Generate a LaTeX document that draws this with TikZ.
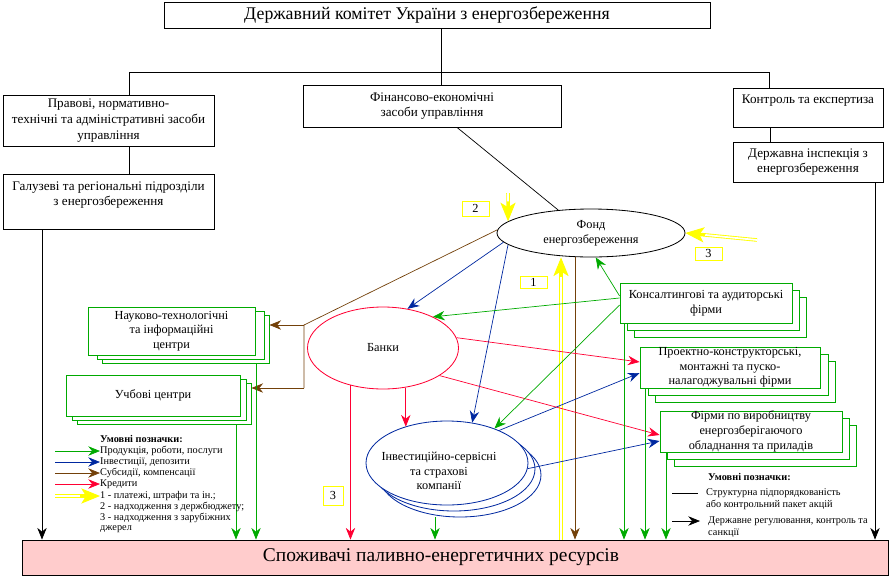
\documentclass[tikz,border=0pt]{standalone}
\usepackage{fontspec}
\setmainfont{Liberation Serif}
\usetikzlibrary{shapes.geometric,arrows.meta,calc}
\definecolor{grn}{RGB}{0,170,0}
\definecolor{blu}{RGB}{0,40,160}
\definecolor{brn}{RGB}{115,65,10}
\definecolor{rd}{RGB}{255,0,51}
\definecolor{ylw}{RGB}{255,255,0}
\definecolor{pnk}{RGB}{255,204,204}
\tikzset{
  sz/.style 2 args={minimum width=#1*0.03cm,minimum height=#2*0.03cm},
  box/.style={shape=rectangle,draw=black,line width=0.7pt,fill=white,align=center,inner sep=1pt,font=\fontsize{10.5}{12.5}\selectfont},
  topbox/.style={box,font=\fontsize{11.2}{13.5}\selectfont},
  gbox/.style={box,draw=grn},
  oval/.style={shape=ellipse,line width=0.7pt,fill=white,inner sep=0pt},
  intext/.style={align=center,font=\fontsize{10.5}{12.5}\selectfont},
  ybox/.style={box,draw=ylw},
  leg/.style={anchor=west,inner sep=0pt,font=\fontsize{8.8}{9.5}\selectfont},
  leghead/.style={leg,font=\fontsize{8.8}{9.5}\selectfont\bfseries},
  arr/.style={-{Stealth[length=10pt,width=8pt]}},
  struct/.style={color=black,line width=0.6pt},
  ctrlarr/.style={struct,arr},
  goods/.style={color=grn,line width=0.6pt,arr},
  money/.style={color=blu,line width=0.6pt,arr},
  subsid/.style={color=brn,line width=0.6pt,arr},
  credit/.style={color=rd,line width=0.6pt,arr},
  pay/.style={color=ylw,line width=3pt,-{Stealth[length=16pt,width=13pt,inset=4pt,line width=0.8pt]}},
  payin/.style={color=white,line width=1.5pt}
}
\begin{document}
\begin{tikzpicture}[x=0.03cm,y=-0.03cm]
    \useasboundingbox (0,0) rectangle (893,577);

    \node[box,sz={546}{26},label={[font=\fontsize{15.2}{17}\selectfont,xshift=-0.3cm]center:Державний комітет України з енергозбереження}] (com) at (437,15) {};
    \node[topbox,sz={211}{51}] (law)    at (108.5,120.5) {Правові, нормативно-\\технічні та адміністративні засоби\\управління};
    \node[topbox,sz={258}{42}] (fin)    at (432,106)     {Фінансово-економічні\\засоби управління};
    \node[topbox,sz={150}{39}] (ctrl)   at (808,107.5)   {Контроль та експертиза\\\mbox{}};
    \node[topbox,sz={211}{55}] (branch) at (108.5,201.5) {Галузеві та регіональні підрозділи\\з енергозбереження\\\mbox{}};
    \node[topbox,sz={150}{40}] (insp)   at (808,162)     {Державна інспекція з\\енергозбереження};

    \node[oval,draw=black,sz={188}{48},label={[intext]center:Фонд\\енергозбереження}] (fund) at (591,233) {};
    \node[oval,draw=rd,sz={151}{82},label={[intext]center:Банки}] (banks) at (383,348) {};
    \foreach \k/\dx/\dy in {2/13/12,1/7/6}
        \node[oval,draw=blu,sz={162}{84}] (inv-\k) at (447+\dx,463+\dy) {};
    \node[oval,draw=blu,sz={162}{84}] (inv) at (447,463) {};
    \node[intext] (invtxt) at (439,471) {Інвестиційно-сервісні\\та страхові\\компанії};

    \foreach \k/\dx/\dy in {2/14/8,1/9/4}
        \node[gbox,sz={167}{48}] (sci-\k) at (171.5+\dx,331+\dy) {};
    \node[gbox,sz={167}{48}] (sci) at (171.5,331) {Науково-технологічні\\та інформаційні\\центри};
    \foreach \k/\dx/\dy in {2/11/8,1/6/4}
        \node[gbox,sz={174}{41}] (edu-\k) at (153+\dx,395.5+\dy) {};
    \node[gbox,sz={174}{41}] (edu) at (153,395.5) {Учбові центри};
    \foreach \k/\dx/\dy in {2/14/14,1/7/7}
        \node[gbox,sz={172}{40}] (cons-\k) at (706+\dx,303+\dy) {};
    \node[gbox,sz={172}{40}] (cons) at (706,303) {Консалтингові та аудиторські\\фірми};
    \foreach \k/\dx/\dy in {2/15/14,1/8/7}
        \node[gbox,sz={180}{41}] (proj-\k) at (730+\dx,367.5+\dy) {};
    \node[gbox,sz={180}{41},inner sep=0pt] (proj) at (730,367.5) {Проектно-конструкторські,\\монтажні та пуско-\\налагоджувальні фірми};
    \foreach \k/\dx/\dy in {2/14/14,1/7/7}
        \node[gbox,sz={182}{41}] (manuf-\k) at (751+\dx,431.5+\dy) {};
    \node[gbox,sz={182}{41},inner sep=0pt] (manuf) at (751,431.5) {Фірми по виробництву\\енергозберігаючого\\обладнання та приладів};

    \node[box,fill=pnk,sz={866}{35},label={[font=\fontsize{16.6}{18}\selectfont,xshift=-0.42cm]center:Споживачі паливно-енергетичних ресурсів}] (users) at (455,557.5) {};

    \node[ybox,sz={27}{15}] (n2)  at (475.5,208.5) {2};
    \node[ybox,sz={27}{13}] (n3)  at (708.5,253.5) {3};
    \node[ybox,sz={27}{12}] (n1)  at (533.5,282)   {1};
    \node[ybox,sz={20}{19}] (n3b) at (333,495.5)   {3};

    % структура
    \path [struct] (com.south -| 441,0) edge (fin.north -| 441,0);
    \draw [struct] (law.north -| 129,0) -- (129,72) -- (769,72) -- (ctrl.north -| 769,0);
    \path [struct] (law.south -| 129,0) edge (branch.north -| 129,0);
    \path [struct] (ctrl.south -| 770,0) edge (insp.north -| 770,0);
    \path [struct] (fin.south -| 457,0) edge (fund.145);
    \path [ctrlarr] (branch.south -| 42,0) edge (users.north -| 42,0);
    \path [ctrlarr] (insp.south -| 875,0) edge (users.north -| 875,0);

    % субсидії
    \coordinate (fork)  at (304,325);
    \coordinate (fork2) at (304,388);
    \draw [subsid,-] (fund.178) -- (fork) -- (fork2);
    \path [subsid] (fork)  edge (fork -| sci-2.east);
    \path [subsid] (fork2) edge (fork2 -| edu-2.east);
    \path [subsid] (fund.south -| 575,0) edge (users.north -| 575,0);

    % платежі
    \coordinate (in1) at (users.north -| 561,0);
    \coordinate (in2) at (508,193);
    \coordinate (in3) at (757,240);
    \draw [pay]   (in1) -- (fund.south -| 561,0);
    \draw [payin] (in1) -- ($(fund.south -| 561,0)!17pt!(in1)$);
    \draw [pay]   (in2) -- (fund.172);
    \draw [payin] (in2) -- ($(fund.172)!17pt!(in2)$);
    \draw [pay]   (in3) -- (fund.east);
    \draw [payin] (in3) -- ($(fund.east)!17pt!(in3)$);

    % інвестиції
    \path [money] (fund.186) edge (banks.58);
    \path [money] (fund.188) edge (inv.58);
    \path [money] (inv.32)   edge (proj.west |- 0,373);
    \path [money] (inv.-4)   edge (manuf.west |- 0,441);

    % кредити
    \path [credit] (banks.229) edge (banks.229 |- users.north);
    \path [credit] (banks.300) edge (banks.300 |- inv.139);
    \path [credit] (banks.8)   edge (proj.west |- 0,362);
    \path [credit] (banks.334) edge (manuf.west |- 0,435);

    % продукція
    \path [goods] (cons.west |- 0,296) edge (fund.281);
    \path [goods] (cons.west |- 0,298) edge (banks.32);
    \path [goods] (cons.west |- 0,305) edge (inv.36);
    \path [goods] (cons.south -| 624,0)  edge (users.north -| 624,0);
    \path [goods] (proj.south -| 645,0)  edge (users.north -| 645,0);
    \path [goods] (manuf.south -| 666,0) edge (users.north -| 666,0);
    \path [goods] (sci-2.south -| 256,0) edge (users.north -| 256,0);
    \path [goods] (edu-2.south -| 236,0) edge (users.north -| 236,0);
    \path [goods] (inv-2.south -| 435,0) edge (users.north -| 435,0);

    % умовні позначки
    \node[leghead] (lhead) at (100,439) {Умовні позначки:};
    \node[leg] (lg1) at (100,451) {Продукція, роботи, послуги};
    \node[leg] (lg2) at (100,462) {Інвестиції, депозити};
    \node[leg] (lg3) at (100,473) {Субсидії, компенсації};
    \node[leg] (lg4) at (100,484) {Кредити};
    \node[leg] (lg5) at (100,496) {1 - платежі, штрафи та ін.;};
    \node[leg] (lg6) at (100,507) {2 - надходження з держбюджету;};
    \node[leg] (lg7) at (100,518) {3 - надходження з зарубіжних};
    \node[leg] (lg8) at (100,529.5) {джерел};
    \path [goods]  (lg1.west -| 55,0) edge (lg1.west);
    \path [money]  (lg2.west -| 55,0) edge (lg2.west);
    \path [subsid] (lg3.west -| 55,0) edge (lg3.west);
    \path [credit] (lg4.west -| 55,0) edge (lg4.west);
    \draw [pay]    (lg5.west -| 55,0) -- (lg5.west);
    \draw [payin]  (lg5.west -| 55,0) -- ($(lg5.west)!17pt!(lg5.west -| 55,0)$);

    \node[leghead] (rhead) at (708,477) {Умовні позначки:};
    \node[leg] (rl1) at (706,493) {Структурна підпорядкованість};
    \node[leg] (rl2) at (706,505) {або контрольний пакет акцій};
    \node[leg] (rl3) at (708,521) {Державне регулювання, контроль та};
    \node[leg] (rl4) at (708,533) {санкції};
    \path [struct]  (rl1.west -| 672,0) edge (rl1.west -| 698,0);
    \path [ctrlarr] (rl3.west -| 672,0) edge (rl3.west -| 700,0);
\end{tikzpicture}
\end{document}
